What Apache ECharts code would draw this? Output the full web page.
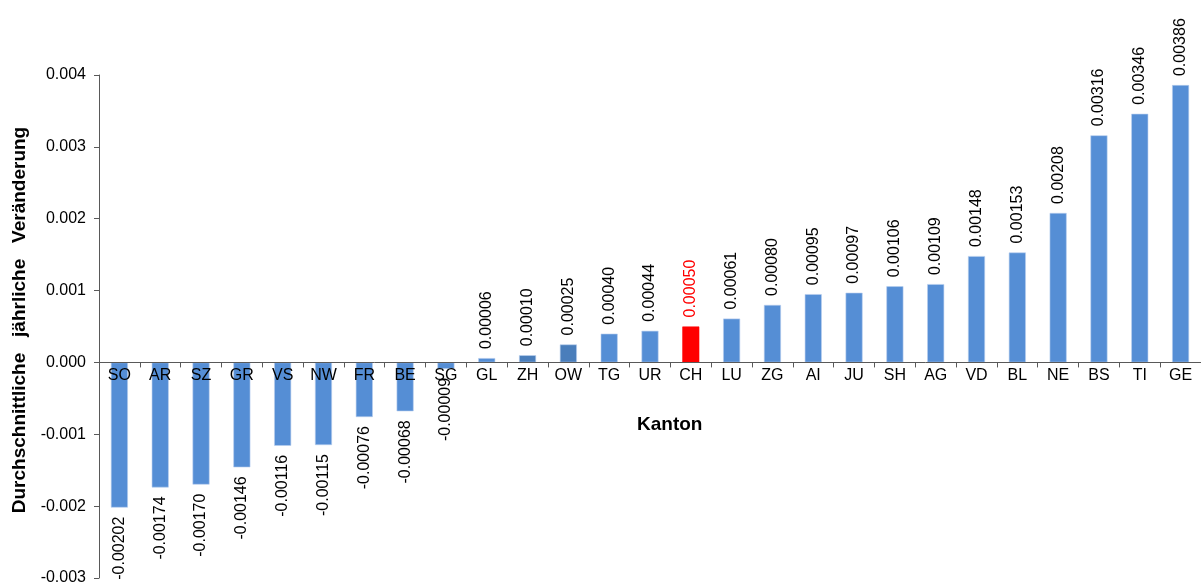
<!DOCTYPE html>
<html>
<head>
<meta charset="utf-8">
<script src="https://cdn.jsdelivr.net/npm/echarts@6/dist/echarts.min.js"></script>
<style>
html,body{margin:0;padding:0;background:#fff;}
#chart{width:1201px;height:588px;}
</style>
</head>
<body>
<div id="chart"></div>
<script>
var categories = ['SO','AR','SZ','GR','VS','NW','FR','BE','SG','GL','ZH','OW','TG','UR','CH','LU','ZG','AI','JU','SH','AG','VD','BL','NE','BS','TI','GE'];
var values = [-0.00202,-0.00174,-0.00170,-0.00146,-0.00116,-0.00115,-0.00076,-0.00068,-0.00009,0.00006,0.00010,0.00025,0.00040,0.00044,0.00050,0.00061,0.00080,0.00095,0.00097,0.00106,0.00109,0.00148,0.00153,0.00208,0.00316,0.00346,0.00386];
var yTicks = [-0.003,-0.002,-0.001,0,0.001,0.002,0.003,0.004];

var FONT = '"Liberation Sans", Arial, sans-serif';
var baseColor = '#558ed5';
var darkColor = '#4a7ebb';
var highlight = 'CH';
var darker = ['ZH','OW'];

var GRID_TOP = 75, GRID_BOTTOM = 10, H = 588;
var plotH = H - GRID_TOP - GRID_BOTTOM;
var yMin = yTicks[0], yMax = yTicks[yTicks.length - 1];
var zeroFromBottom = plotH * (0 - yMin) / (yMax - yMin);

var data = values.map(function(v,i){
  var c = categories[i];
  var col = c === highlight ? '#ff0000' : (darker.indexOf(c) >= 0 ? darkColor : baseColor);
  var neg = v < 0;
  return {
    value: v,
    itemStyle: {color: col, borderColor: c === highlight ? '#ff0000' : '#b9cfee', borderWidth: 0.6},
    label: {
      show: true,
      position: neg ? 'bottom' : 'top',
      rotate: 90,
      align: neg ? 'right' : 'left',
      verticalAlign: 'middle',
      distance: 9,
      color: c === highlight ? '#ff0000' : '#000',
      fontSize: 16,
      fontFamily: FONT,
      formatter: function(p){ return p.value.toFixed(5); }
    }
  };
});

var chart = echarts.init(document.getElementById('chart'));
chart.setOption({
  animation: false,
  grid: {left: 99, right: 0, top: GRID_TOP, bottom: GRID_BOTTOM, containLabel: false},
  xAxis: {
    type: 'category',
    data: categories,
    offset: -zeroFromBottom,
    axisLine: {onZero: false, lineStyle: {color: '#595959', width: 1}},
    axisTick: {show: true, length: 5, lineStyle: {color: '#595959'}},
    axisLabel: {color: '#000', fontSize: 16, fontFamily: FONT, margin: 5, interval: 0},
    z: 10
  },
  yAxis: {
    type: 'value',
    min: yMin, max: yMax, interval: 0.001,
    axisLine: {show: true, lineStyle: {color: '#595959', width: 1}},
    axisTick: {show: true, length: 5, lineStyle: {color: '#595959'}},
    splitLine: {show: false},
    axisLabel: {color: '#000', fontSize: 16, fontFamily: FONT, margin: 13,
      formatter: function(v){ return v.toFixed(3); }}
  },
  graphic: [{
    type: 'text', x: 20, y: 320, rotation: Math.PI / 2,
    style: {text: 'Durchschnittliche   jährliche   Veränderung', font: 'bold 19px ' + FONT, fill: '#000', align: 'center', verticalAlign: 'middle'}
  }, {
    type: 'text', x: 637, y: 425,
    style: {text: 'Kanton', font: 'bold 19px ' + FONT, fill: '#000', align: 'left', verticalAlign: 'middle'}
  }],
  series: [{
    type: 'bar',
    data: data,
    barWidth: 17
  }]
});
</script>
</body>
</html>
